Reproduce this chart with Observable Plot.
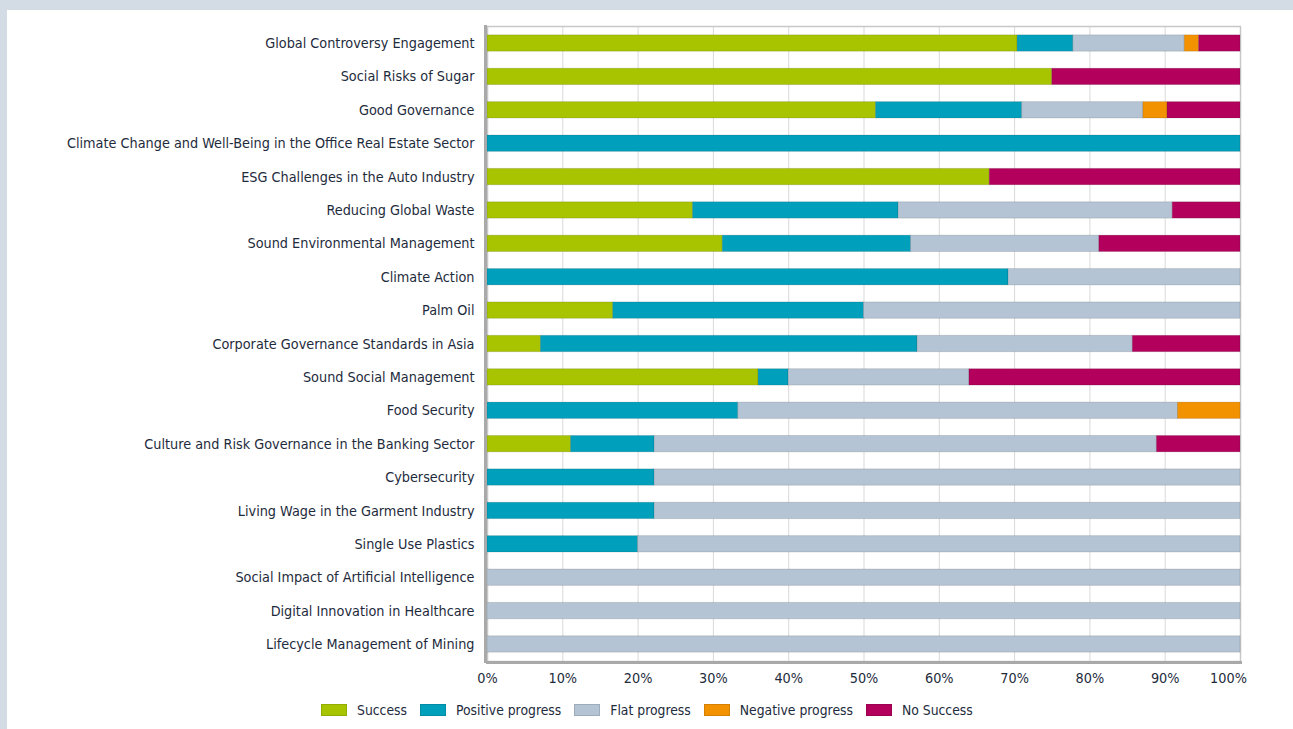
<!DOCTYPE html>
<html>
<head>
<meta charset="utf-8">
<script src="https://cdn.jsdelivr.net/npm/d3@7"></script>
<script src="https://cdn.jsdelivr.net/npm/@observablehq/plot@0.6"></script>
<style>
  html, body { margin: 0; padding: 0; }
  body { width: 1293px; height: 729px; background: #d3dbe4; position: relative; overflow: hidden;
         font-family: "DejaVu Sans Condensed", "DejaVu Sans", sans-serif; font-stretch: condensed; }
  #panel { position: absolute; left: 7px; top: 10px; right: 0; bottom: 0; background: #fff; }
  #chart { position: absolute; left: 0; top: 0; }
  #chart svg { background: transparent; }
  #legend { position: absolute; top: 702px; left: 321px; display: flex; align-items: center;
            font-size: 13.8px; color: #1e2b3c; white-space: nowrap; }
  .item { display: flex; align-items: center; margin-right: 13px; }
  .sw { width: 26px; height: 12px; margin-right: 10px; box-sizing: border-box; border: 1px solid rgba(0,0,0,0.12); }
</style>
</head>
<body>
<div id="panel"></div>
<div id="chart"></div>
<div id="legend"></div>
<script>
const topics = [
  "Global Controversy Engagement",
  "Social Risks of Sugar",
  "Good Governance",
  "Climate Change and Well-Being in the Office Real Estate Sector",
  "ESG Challenges in the Auto Industry",
  "Reducing Global Waste",
  "Sound Environmental Management",
  "Climate Action",
  "Palm Oil",
  "Corporate Governance Standards in Asia",
  "Sound Social Management",
  "Food Security",
  "Culture and Risk Governance in the Banking Sector",
  "Cybersecurity",
  "Living Wage in the Garment Industry",
  "Single Use Plastics",
  "Social Impact of Artificial Intelligence",
  "Digital Innovation in Healthcare",
  "Lifecycle Management of Mining"
];
const statuses = ["Success", "Positive progress", "Flat progress", "Negative progress", "No Success"];
const colors = ["#a8c400", "#00a0bc", "#b4c4d4", "#f39200", "#b2005c"];

const success   = [70.4, 75, 51.6, 0, 66.7, 27.3, 31.25, 0, 16.7, 7.1, 36, 0, 11.1, 0, 0, 0, 0, 0, 0];
const positive  = [7.4, 0, 19.4, 100, 0, 27.3, 25, 69.2, 33.3, 50, 4, 33.3, 11.1, 22.2, 22.2, 20, 0, 0, 0];
const flat      = [14.8, 0, 16.1, 0, 0, 36.4, 25, 30.8, 50, 28.6, 24, 58.4, 66.7, 77.8, 77.8, 80, 100, 100, 100];
const negative  = [1.9, 0, 3.2, 0, 0, 0, 0, 0, 0, 0, 0, 8.3, 0, 0, 0, 0, 0, 0, 0];
const noSuccess = [5.5, 25, 9.7, 0, 33.3, 9.0, 18.75, 0, 0, 14.3, 36, 0, 11.1, 0, 0, 0, 0, 0, 0];

const xTicks = [0, 10, 20, 30, 40, 50, 60, 70, 80, 90, 100];

const seriesValues = [success, positive, flat, negative, noSuccess];
const data = [];
topics.forEach((t, i) => {
  statuses.forEach((s, j) => {
    data.push({topic: t, status: s, value: seriesValues[j][i]});
  });
});

const textColor = "#1e2b3c";
const fmt = d => d + "%";

const chart = Plot.plot({
  width: 1293,
  height: 695,
  marginLeft: 487,
  marginRight: 53,
  marginTop: 26,
  marginBottom: 34,
  style: {fontFamily: '"DejaVu Sans Condensed", "DejaVu Sans", sans-serif', fontSize: "14.3px", color: textColor, background: "transparent"},
  x: {domain: [0, 100], label: null},
  y: {domain: topics, label: null, round: false, paddingInner: 0.51, paddingOuter: 0.265},
  color: {domain: statuses, range: colors},
  marks: [
    Plot.gridX(xTicks, {stroke: "#d9d9d9", strokeOpacity: 1}),
    Plot.frame({stroke: "#c8c8c8", strokeWidth: 1.5}),
    Plot.barX(data, Plot.stackX({y: "topic", x: "value", fill: "status", stroke: "#000", strokeOpacity: 0.12, strokeWidth: 1})),
    Plot.frame({anchor: "left", stroke: "#a9a9a9", strokeWidth: 3, dx: -2}),
    Plot.frame({anchor: "bottom", stroke: "#a9a9a9", strokeWidth: 3, dy: 1}),
    Plot.axisY({tickSize: 0, tickPadding: 13, label: null}),
    Plot.axisX(xTicks.slice(0, -1), {tickSize: 0, tickPadding: 11, tickFormat: fmt, label: null}),
    Plot.axisX(xTicks.slice(-1), {tickSize: 0, tickPadding: 11, tickFormat: fmt, label: null, dx: -12})
  ]
});
document.getElementById("chart").appendChild(chart);

const legend = document.getElementById("legend");
statuses.forEach((s, j) => {
  const item = document.createElement("div");
  item.className = "item";
  const sw = document.createElement("div");
  sw.className = "sw";
  sw.style.background = colors[j];
  const lab = document.createElement("span");
  lab.textContent = s;
  item.appendChild(sw);
  item.appendChild(lab);
  legend.appendChild(item);
});
</script>
</body>
</html>
